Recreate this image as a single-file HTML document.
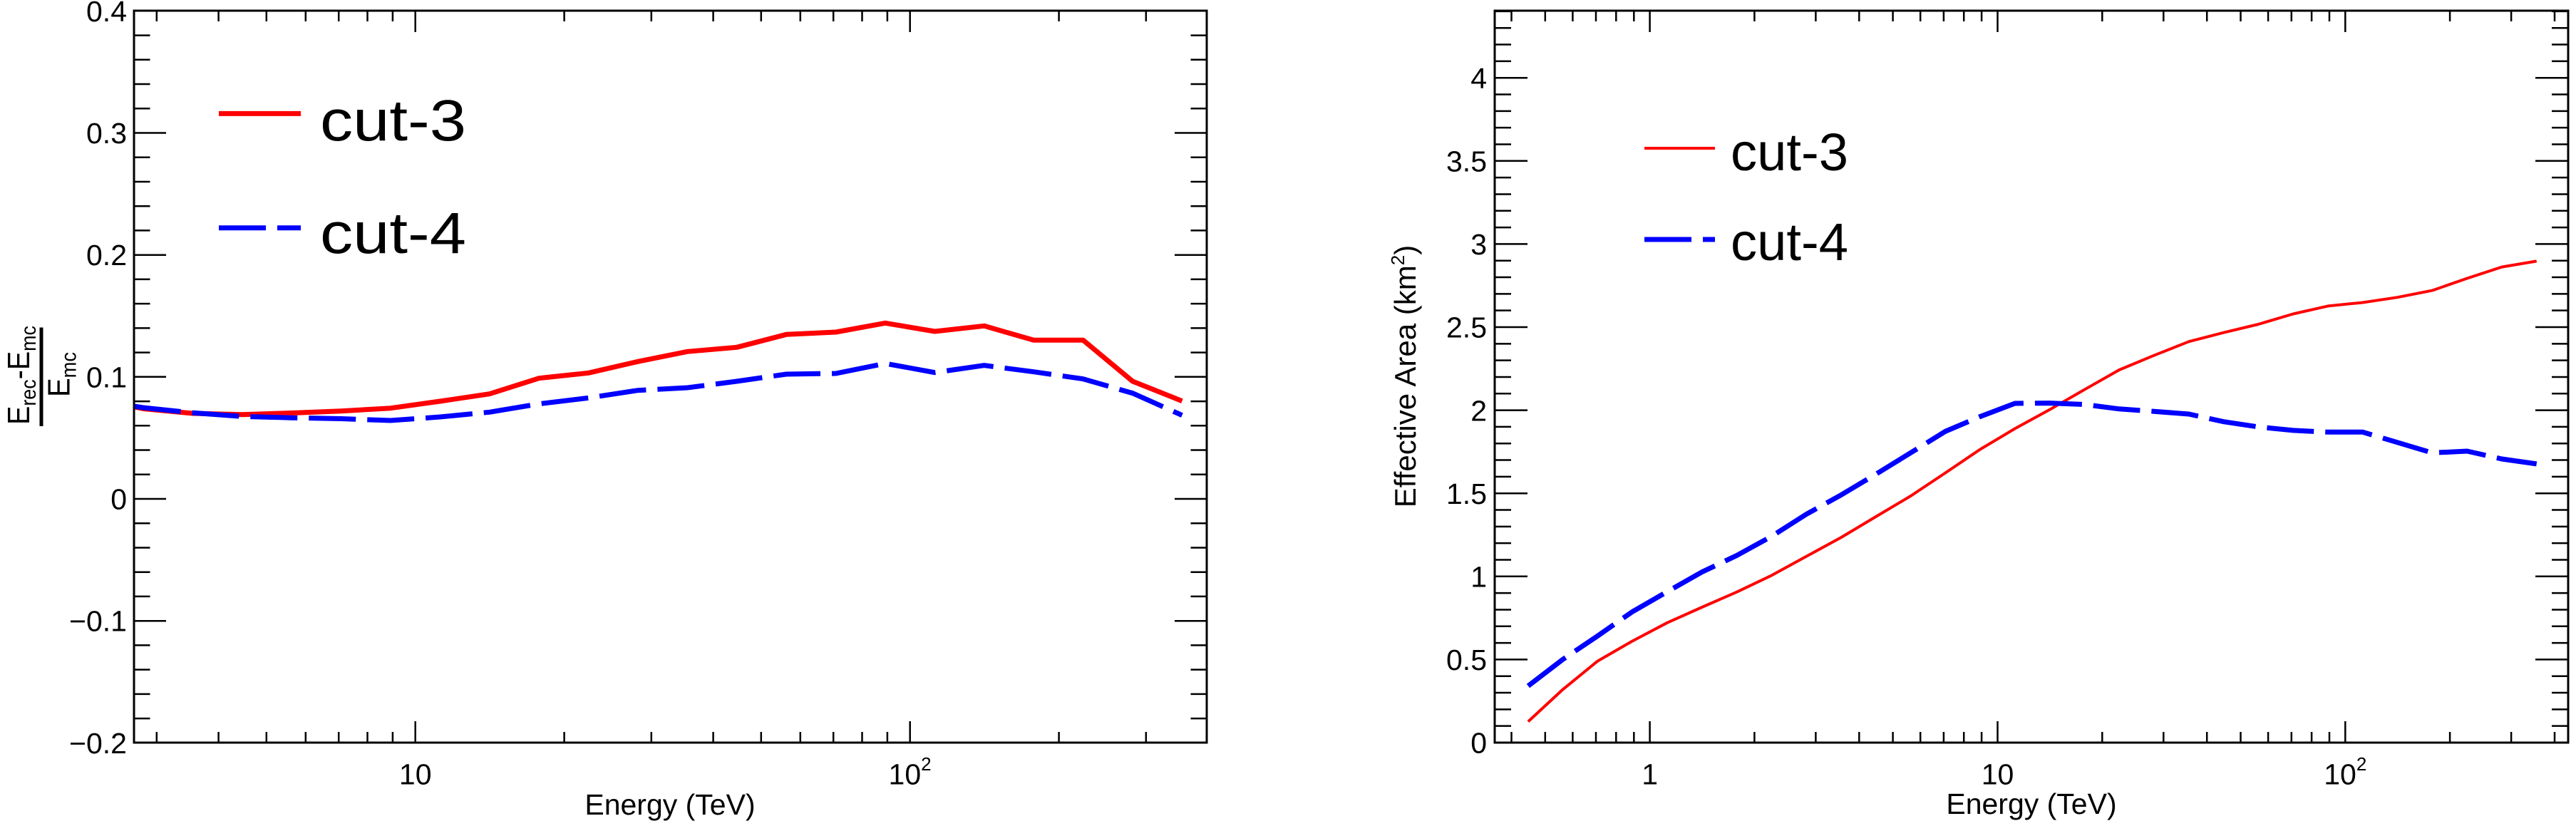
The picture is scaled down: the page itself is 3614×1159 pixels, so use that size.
<!DOCTYPE html>
<html><head><meta charset="utf-8"><style>
html,body{margin:0;padding:0;background:#fff;}
svg{display:block;}
text{font-family:"Liberation Sans",Arial,sans-serif;fill:#000;}
</style></head><body>
<svg width="3614" height="1159" viewBox="0 0 3614 1159" xmlns="http://www.w3.org/2000/svg">
<defs>
<path id="lyt" fill="none" stroke="#000" stroke-width="2.5" d="M0 1042.3h45M0 1008.1h22.5M0 973.9h22.5M0 939.6h22.5M0 905.4h22.5M0 871.2h45M0 836.9h22.5M0 802.7h22.5M0 768.5h22.5M0 734.2h22.5M0 700h45M0 665.8h22.5M0 631.5h22.5M0 597.3h22.5M0 563.1h22.5M0 528.8h45M0 494.6h22.5M0 460.4h22.5M0 426.1h22.5M0 391.9h22.5M0 357.7h45M0 323.4h22.5M0 289.2h22.5M0 255h22.5M0 220.7h22.5M0 186.5h45M0 152.3h22.5M0 118h22.5M0 83.8h22.5M0 49.6h22.5M0 15.3h45"/>
<path id="ryt" fill="none" stroke="#000" stroke-width="2.5" d="M0 1042h46M0 1018.68h23M0 995.36h23M0 972.04h23M0 948.72h23M0 925.4h46M0 902.08h23M0 878.76h23M0 855.44h23M0 832.12h23M0 808.8h46M0 785.48h23M0 762.16h23M0 738.84h23M0 715.52h23M0 692.2h46M0 668.88h23M0 645.56h23M0 622.24h23M0 598.92h23M0 575.6h46M0 552.28h23M0 528.96h23M0 505.64h23M0 482.32h23M0 459h46M0 435.68h23M0 412.36h23M0 389.04h23M0 365.72h23M0 342.4h46M0 319.08h23M0 295.76h23M0 272.44h23M0 249.12h23M0 225.8h46M0 202.48h23M0 179.16h23M0 155.84h23M0 132.52h23M0 109.2h46M0 85.88h23M0 62.56h23M0 39.24h23M0 15.92h23"/>
<path id="lxt" fill="none" stroke="#000" stroke-width="2.5" d="M219.8 0v-15M306.6 0v-15M373.8 0v-15M428.8 0v-15M475.2 0v-15M515.5 0v-15M550.9 0v-15M582.7 0v-30M791.6 0v-15M913.8 0v-15M1000.6 0v-15M1067.8 0v-15M1122.8 0v-15M1169.2 0v-15M1209.5 0v-15M1244.9 0v-15M1276.7 0v-30M1485.6 0v-15M1607.8 0v-15"/>
<path id="rxt" fill="none" stroke="#000" stroke-width="2.5" d="M2120.5 0v-15M2167.8 0v-15M2206.4 0v-15M2239 0v-15M2267.3 0v-15M2292.3 0v-15M2314.6 0v-30M2461.4 0v-15M2547.4 0v-15M2608.3 0v-15M2655.6 0v-15M2694.2 0v-15M2726.9 0v-15M2755.2 0v-15M2780.1 0v-15M2802.5 0v-30M2949.3 0v-15M3035.3 0v-15M3096.2 0v-15M3143.5 0v-15M3182.1 0v-15M3214.8 0v-15M3243.1 0v-15M3268 0v-15M3290.3 0v-30M3437.1 0v-15M3523.1 0v-15M3584 0v-15"/>
</defs>

<!-- ================= LEFT PANEL ================= -->
<polyline fill="none" stroke="#ff0000" stroke-width="7" stroke-linejoin="round" points="188,571 201,573.5 270.4,580 339.8,581.7 409.2,579.5 478.6,576.7 548,572.7 617.4,563 686.8,552.7 756.2,530.7 825.6,523.3 895,507.3 964.4,493.3 1033.8,487.3 1103.2,469.3 1172.6,466 1242,453.3 1311.4,465 1380.8,457.3 1450.2,477.3 1519.6,477.3 1589,535 1658.4,562.7"/>
<polyline fill="none" stroke="#0000ff" stroke-width="7" stroke-dasharray="66 16" points="188,570 201,572 270.4,579.3 339.8,584.3 409.2,586.2 478.6,587.5 548,590 617.4,585 686.8,578.3 756.2,566.7 825.6,558.3 895,547.7 964.4,544 1033.8,535 1103.2,525 1172.6,524 1242,510 1311.4,522.7 1380.8,512.7 1450.2,521.7 1519.6,531.7 1589,551.7 1658.4,582.7"/>

<use href="#lyt" transform="translate(188,0)"/>
<use href="#lyt" transform="translate(1693,0) scale(-1,1)"/>
<use href="#lxt" transform="translate(0,1042)"/>
<use href="#lxt" transform="translate(0,15) scale(1,-1)"/>
<rect x="188" y="15" width="1505" height="1027" fill="none" stroke="#000" stroke-width="3"/>

<g font-size="41" text-anchor="end">
<text x="178" y="29.8">0.4</text>
<text x="178" y="201">0.3</text>
<text x="178" y="372.2">0.2</text>
<text x="178" y="543.3">0.1</text>
<text x="178" y="714.5">0</text>
<text x="178" y="885.7">−0.1</text>
<text x="178" y="1056.8">−0.2</text>
</g>
<g font-size="41" text-anchor="middle">
<text x="582.7" y="1100.5">10</text>
<text x="1276.6" y="1100.5">10<tspan font-size="26" dy="-19.5">2</tspan></text>
<text x="940" y="1143">Energy (TeV)</text>
</g>

<!-- left y title fraction -->
<g transform="translate(0,528) rotate(-90)">
<text x="-68" y="41" font-size="44" textLength="139" lengthAdjust="spacingAndGlyphs">E<tspan font-size="30" dy="9">rec</tspan><tspan dy="-9">-E</tspan><tspan font-size="30" dy="9">mc</tspan></text>
<text x="-29" y="97.6" font-size="44" textLength="63" lengthAdjust="spacingAndGlyphs">E<tspan font-size="30" dy="9">mc</tspan></text>
</g>
<line x1="58" y1="459.5" x2="58" y2="598" stroke="#000" stroke-width="5"/>

<!-- left legend -->
<line x1="307" y1="159.4" x2="422" y2="159.4" stroke="#ff0000" stroke-width="7"/>
<text x="449" y="197" font-size="82" textLength="205" lengthAdjust="spacingAndGlyphs">cut-3</text>
<line x1="307" y1="319.8" x2="422" y2="319.8" stroke="#0000ff" stroke-width="7" stroke-dasharray="66 16"/>
<text x="449" y="355" font-size="82" textLength="205" lengthAdjust="spacingAndGlyphs">cut-4</text>

<!-- ================= RIGHT PANEL ================= -->
<polyline fill="none" stroke="#ff0000" stroke-width="4" stroke-linejoin="round" points="2143.9,1012.5 2192.6,967.4 2241.4,927.6 2290.2,899.5 2339,873.8 2387.8,852 2436.6,830.7 2485.4,807.4 2534.1,780.8 2583,754.1 2631.7,725 2680.5,696 2729.3,663.5 2778.1,630.5 2826.9,601.4 2875.6,574.8 2924.4,546.7 2973.2,519 3022,498.7 3070.8,479.3 3119.6,466.7 3168.3,455 3217.1,440.5 3266,429.4 3314.7,424.5 3363.5,417.2 3412.3,407.6 3461.1,390.6 3510,374.6 3558.7,366.4"/>
<polyline fill="none" stroke="#0000ff" stroke-width="7" stroke-dasharray="66 16" points="2143.9,962.5 2192.6,925.2 2241.4,892.3 2290.2,858.3 2339,830.2 2387.8,802.6 2436.6,779.4 2485.4,752.6 2534.1,721.6 2583,694.5 2631.7,665.4 2680.5,635.4 2729.3,605.3 2778.1,584.5 2826.9,566 2875.6,565.6 2924.4,567.5 2973.2,573.8 3022,577.2 3070.8,581 3119.6,591.7 3168.3,599 3217.1,603.9 3266,606.3 3314.7,606.3 3363.5,620.8 3412.3,635.4 3461.1,633 3510,644 3558.7,650.9"/>

<use href="#ryt" transform="translate(2097,0)"/>
<use href="#ryt" transform="translate(3603,0) scale(-1,1)"/>
<use href="#rxt" transform="translate(0,1042)"/>
<use href="#rxt" transform="translate(0,15) scale(1,-1)"/>
<rect x="2097" y="15" width="1506" height="1027" fill="none" stroke="#000" stroke-width="3"/>

<g font-size="41" text-anchor="end">
<text x="2086" y="1056.7">0</text>
<text x="2086" y="940.1">0.5</text>
<text x="2086" y="823.5">1</text>
<text x="2086" y="706.9">1.5</text>
<text x="2086" y="590.3">2</text>
<text x="2086" y="473.7">2.5</text>
<text x="2086" y="357.1">3</text>
<text x="2086" y="240.5">3.5</text>
<text x="2086" y="123.9">4</text>
</g>
<g font-size="41" text-anchor="middle">
<text x="2314.6" y="1100.5">1</text>
<text x="2802.5" y="1100.5">10</text>
<text x="3290.3" y="1100.5">10<tspan font-size="26" dy="-19.5">2</tspan></text>
<text x="2850" y="1142">Energy (TeV)</text>
</g>

<g transform="translate(1986,528) rotate(-90)">
<text x="0" y="0" font-size="42" text-anchor="middle">Effective Area (km<tspan font-size="26" dy="-16">2</tspan><tspan dy="16">)</tspan></text>
</g>

<!-- right legend -->
<line x1="2307" y1="208" x2="2406" y2="208" stroke="#ff0000" stroke-width="4"/>
<text x="2428" y="239" font-size="74" textLength="165" lengthAdjust="spacingAndGlyphs">cut-3</text>
<line x1="2307" y1="336" x2="2406" y2="336" stroke="#0000ff" stroke-width="7" stroke-dasharray="66 16"/>
<text x="2428" y="365" font-size="74" textLength="165" lengthAdjust="spacingAndGlyphs">cut-4</text>
</svg>
</body></html>
